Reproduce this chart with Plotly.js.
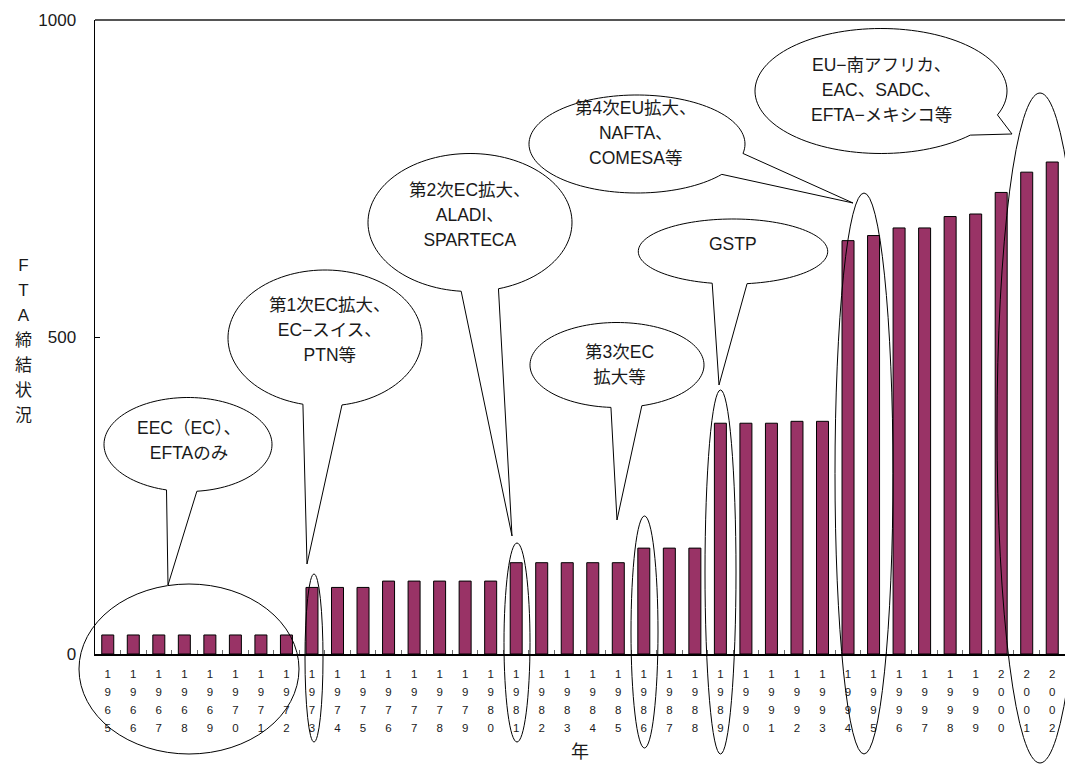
<!DOCTYPE html>
<html>
<head>
<meta charset="utf-8">
<script src="https://cdn.plot.ly/plotly-3.0.1.min.js"></script>
<style>html,body{margin:0;padding:0;background:#fff;}</style>
</head>
<body>
<div id="chart" style="width:1065px;height:765px;"></div>
<script>
// ---- data ----
const years = [1965,1966,1967,1968,1969,1970,1971,1972,1973,1974,1975,1976,1977,1978,1979,1980,1981,1982,1983,1984,1985,1986,1987,1988,1989,1990,1991,1992,1993,1994,1995,1996,1997,1998,1999,2000,2001,2002];
const ftaCounts = [30,30,30,30,30,30,30,30,105,105,105,115,115,115,115,115,144,144,144,144,144,167,167,167,364,364,364,367,367,652,660,672,672,690,694,728,760,776];
const yTicks = [0,500,1000];
const yTitleChars = ['F','T','A','締','結','状','況'];
const xTitle = '年';
const calloutTexts = [
  'EEC（EC）、<br>EFTAのみ',
  '第1次EC拡大、<br>EC−スイス、<br>PTN等',
  '第2次EC拡大、<br>ALADI、<br>SPARTECA',
  '第3次EC<br>拡大等',
  'GSTP',
  '第4次EU拡大、<br>NAFTA、<br>COMESA等',
  'EU−南アフリカ、<br>EAC、SADC、<br>EFTA−メキシコ等'
];

// ---- layout geometry (pixels) ----
const W = 1065, H = 765, ML = 95, MR = 0, MT = 20, MB = 111;
const PW = W - ML - MR, PH = H - MT - MB;
const px = (x) => (x - ML) / PW;
const py = (y) => (H - MB - y) / PH;

const bubbles = [
  {cx:188, cy:444.5, rx:84, ry:47, b1:[166,491], b2:[197,492], tip:[168,585], tx:189, ty:440},
  {cx:325, cy:338, rx:97, ry:68, b1:[303,404], b2:[342,405], tip:[307,564], tx:330, ty:330},
  {cx:470, cy:222.5, rx:102, ry:69, b1:[461,292.5], b2:[499,290], tip:[512,536], tx:470, ty:215},
  {cx:617, cy:365, rx:87, ry:42.5, b1:[611,407], b2:[642,406], tip:[617,520], tx:619, ty:365},
  {cx:733, cy:251.5, rx:94.7, ry:32.5, b1:[712,283.5], b2:[747,283.5], tip:[719,385], tx:733, ty:244},
  {cx:637, cy:144, rx:108, ry:49, b1:[718,173], b2:[738,153], tip:[853,203], tx:636, ty:133},
  {cx:881, cy:91, rx:126, ry:62.5, b1:[970,135], b2:[998,115], tip:[1012,134], tx:881, ty:90}
];
const rings = [
  [79,584,299,754],
  [305,574,323,742],
  [504,543,530,742],
  [631,516,658,748],
  [705,390,736,754],
  [835,193,893,754],
  [997,93,1083,763]
];

function bubblePath(b) {
  const ang = (p) => Math.atan2((p[1]-b.cy)/b.ry, (p[0]-b.cx)/b.rx);
  const a1 = ang(b.b1), a2 = ang(b.b2);
  let d = a1 - a2;
  while (d <= -Math.PI) d += 2*Math.PI;
  while (d > Math.PI) d -= 2*Math.PI;
  const longArc = d - Math.sign(d) * 2 * Math.PI;
  const n = 120;
  let pts = [];
  for (let i = 0; i <= n; i++) {
    const a = a2 + longArc * i / n;
    pts.push([b.cx + b.rx*Math.cos(a), b.cy + b.ry*Math.sin(a)]);
  }
  pts.push(b.tip);
  return 'M' + pts.map(p => px(p[0]).toFixed(5) + ',' + py(p[1]).toFixed(5)).join('L') + 'Z';
}

const shapes = [];
// top border
shapes.push({type:'line', xref:'paper', yref:'paper', x0:0, x1:1, y0:1, y1:1, line:{color:'#555', width:2}});
bubbles.forEach(b => shapes.push({type:'path', xref:'paper', yref:'paper', path:bubblePath(b), fillcolor:'#fff', line:{color:'#000', width:1}}));
rings.forEach(r => shapes.push({type:'circle', xref:'paper', yref:'paper', x0:px(r[0]), x1:px(r[2]), y0:py(r[3]), y1:py(r[1]), line:{color:'#000', width:1}}));

const FONT = '"Liberation Sans", "Noto Sans CJK JP", sans-serif';
const span = (t, s) => `<span style="font-size:${s}px">${t}</span>`;

const annotations = [];
bubbles.forEach((b, i) => {
  annotations.push({
    xref:'paper', yref:'paper', x:px(b.tx), y:py(b.ty), xanchor:'center', yanchor:'middle',
    text: calloutTexts[i].split('<br>').map(t => span(t, 17.5)).join('<br>'),
    showarrow:false, font:{family:FONT, size:19.2, color:'#1a1a1a'}
  });
});
annotations.push({
  xref:'paper', yref:'paper', x:px(23), y:py(340), xanchor:'center', yanchor:'middle',
  text: yTitleChars.map(c => span(c, 17)).join('<br>'),
  showarrow:false, font:{family:FONT, size:19.2, color:'#1a1a1a'}
});
annotations.push({
  xref:'paper', yref:'paper', x:px(580), y:py(752), xanchor:'center', yanchor:'middle',
  text: xTitle, showarrow:false, font:{family:FONT, size:18, color:'#1a1a1a'}
});

const tickText = years.map(y => String(y).split('').map(d => span(d, 11.5)).join('<br>'));

const trace = {
  type:'bar', x: years.map(String), y: ftaCounts,
  marker:{color:'#993366', line:{color:'#000', width:1}},
  hoverinfo:'x+y'
};

const layout = {
  width:W, height:H,
  margin:{l:ML, r:MR, t:MT, b:MB, pad:0},
  paper_bgcolor:'#fff', plot_bgcolor:'#fff',
  showlegend:false, bargap:0.53,
  font:{family:FONT, color:'#1a1a1a'},
  xaxis:{
    type:'category', range:[-0.5, years.length-0.5],
    tickmode:'array', tickvals: years.map(String), ticktext: tickText,
    tickson:'boundaries', ticks:'inside', ticklen:4, tickcolor:'#666', tickwidth:1,
    tickfont:{family:FONT, size:14, color:'#1a1a1a'}, tickangle:0,
    showline:true, linecolor:'#000', linewidth:2, showgrid:false, zeroline:false,
    fixedrange:true, ticklabelstandoff:5
  },
  yaxis:{
    range:[0,1000], tickmode:'array', tickvals:yTicks, ticktext:yTicks.map(String),
    ticks:'inside', ticklen:5, tickcolor:'#000',
    tickfont:{family:FONT, size:17, color:'#1a1a1a'},
    showline:true, linecolor:'#000', linewidth:1.5, showgrid:false, zeroline:false,
    fixedrange:true, ticklabelstandoff:14
  },
  shapes: shapes,
  annotations: annotations
};

Plotly.newPlot('chart', [trace], layout, {staticPlot:true, displayModeBar:false});
</script>
</body>
</html>
